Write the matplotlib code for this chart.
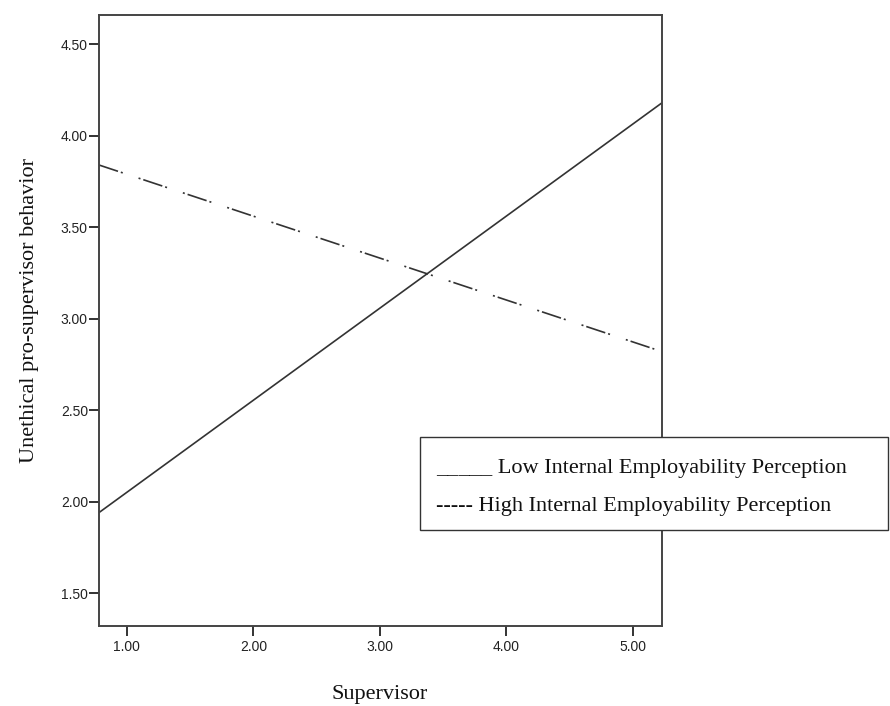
import matplotlib
matplotlib.use("Agg")
import matplotlib.pyplot as plt
from matplotlib.patches import Rectangle

# Data
x_range = [0.78, 5.23]
low_iep = [1.94, 4.18]     # solid line endpoints
high_iep = [3.84, 2.82]    # dash-dot line endpoints
x_ticks = [1.0, 2.0, 3.0, 4.0, 5.0]
y_ticks = [1.5, 2.0, 2.5, 3.0, 3.5, 4.0, 4.5]
x_label = "Supervisor"
y_label = "Unethical pro-supervisor behavior"
legend_lines = ["_____ Low Internal Employability Perception",
                "----- High Internal Employability Perception"]

fig = plt.figure(figsize=(8.9, 7.06), dpi=100)
ax = fig.add_axes([99/890, 1-626/706, (662-99)/890, (626-15)/706])

ax.plot(x_range, low_iep, color="#333333", lw=1.2, solid_capstyle="butt")
ax.plot(x_range, high_iep, color="#333333", lw=1.2,
        dashes=[12, 1.8, 1.2, 10, 1.2, 1.8])

ax.set_xlim(x_range)
ax.set_ylim(1.32, 4.66)
ax.set_xticks(x_ticks)
ax.set_yticks(y_ticks)
ax.set_xticklabels([f"{v:.2f}" for v in x_ticks], family="Liberation Sans", fontsize=10, color="#222222")
ax.set_yticklabels([f"{v:.2f}" for v in y_ticks], family="Liberation Sans", fontsize=10, color="#222222")
ax.tick_params(axis="both", direction="out", length=7, width=1.4, color="#333333")
ax.tick_params(axis="x", pad=3)
ax.tick_params(axis="y", pad=1)

for s in ax.spines.values():
    s.set_color("#444444")
    s.set_linewidth(1.4)

serif = "Liberation Serif"
fig.text(380/890, 1-694/706, x_label, ha="center", va="center",
         family=serif, fontsize=16, color="#111111")
fig.text(30/890, 1-311/706, y_label, ha="center", va="center", rotation=90,
         family=serif, fontsize=16, color="#111111")

# Legend box
bx0, by0, bx1, by1 = 420, 437, 888, 530
rect = Rectangle((bx0/890, 1-by1/706), (bx1-bx0)/890, (by1-by0)/706,
                 transform=fig.transFigure, facecolor="white",
                 edgecolor="#333333", lw=1.0, zorder=10)
fig.add_artist(rect)
fig.text(436/890, 1-469/706, legend_lines[0], ha="left", va="center",
         family=serif, fontsize=16, color="#111111", zorder=11)
fig.text(436/890, 1-506/706, legend_lines[1], ha="left", va="center",
         family=serif, fontsize=16, color="#111111", zorder=11)

fig.savefig("out.png", dpi=100)
